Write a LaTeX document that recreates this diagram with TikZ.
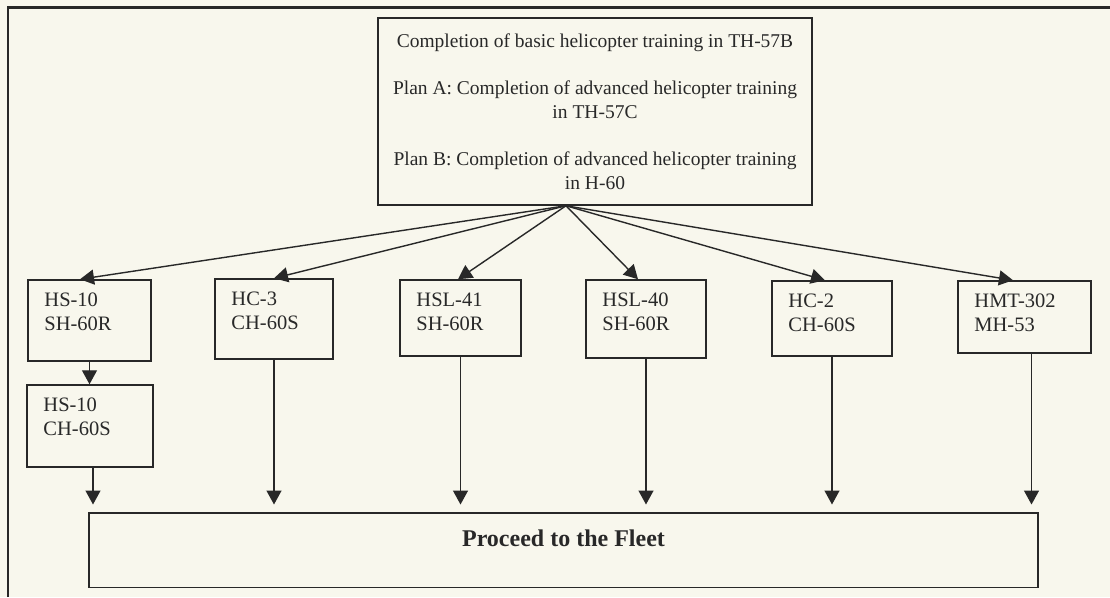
\documentclass[tikz,border=0pt]{standalone}
\usepackage{fontspec}
\setmainfont{Liberation Serif}
\usetikzlibrary{arrows.meta}
\definecolor{paper}{RGB}{248,247,237}
\definecolor{ink}{RGB}{40,40,40}
\tikzset{
  plainbox/.style={draw=ink, line width=1.5pt, inner sep=0pt},
  unitbox/.style={plainbox, minimum width=120pt, minimum height=78pt},
  unittext/.style={anchor=north west, inner sep=0pt, align=left, xshift=17pt, yshift=-13.5pt, text=ink, font=\fontsize{20.5}{24}\selectfont},
  flow/.style={draw=ink, line width=1.4pt, -{Triangle[length=14pt,width=15pt]}},
}
\begin{document}
\begin{tikzpicture}[x=1pt,y=-1pt]
\fill[paper] (0,0) rectangle (1110,597);
\useasboundingbox (0,0) rectangle (1110,597);
\draw[draw=ink, line width=2.5pt] (8,597) -- (8,7.5) -- (1110,7.5);
\node[plainbox, minimum width=434pt, minimum height=187pt, align=center, text=ink, font=\fontsize{19.5}{24}\selectfont] (basic) at (595,111.5)
  {Completion of basic helicopter training in TH-57B\\[23pt]
   Plan A: Completion of advanced helicopter training\\ in TH-57C\\[23pt]
   Plan B: Completion of advanced helicopter training\\ in H-60};
\node[unitbox, minimum width=123pt, minimum height=81pt, label={[unittext]north west:HS-10\\SH-60R}] (hs10a) at (89.5,320.5) {};
\node[unitbox, minimum width=118pt, minimum height=80pt, label={[unittext]north west:HC-3\\CH-60S}] (hc3) at (274,319) {};
\node[unitbox, minimum width=121pt, minimum height=76pt, label={[unittext]north west:HSL-41\\SH-60R}] (hsl41) at (460.5,318) {};
\node[unitbox, minimum width=120pt, minimum height=78pt, label={[unittext]north west:HSL-40\\SH-60R}] (hsl40) at (646,319) {};
\node[unitbox, minimum width=120pt, minimum height=75pt, label={[unittext]north west:HC-2\\CH-60S}] (hc2) at (832,318.5) {};
\node[unitbox, minimum width=133pt, minimum height=72pt, label={[unittext]north west:HMT-302\\MH-53}] (hmt) at (1024.5,317) {};
\node[unitbox, minimum width=126pt, minimum height=82pt, label={[unittext]north west:HS-10\\CH-60S}] (hs10b) at (90,426) {};
\node[plainbox, minimum width=949pt, text height=34pt, text depth=40.5pt, text=ink, font=\fontsize{24}{28}\selectfont\bfseries] (fleet) at (563.5,550) {Proceed to the Fleet};
\coordinate (fork) at ([xshift=-29pt]basic.south);
\draw[flow] (fork) -- ([xshift=-9.5pt]hs10a.north);
\draw[flow] (fork) -- (hc3.north);
\draw[flow] (fork) -- ([xshift=-2.5pt]hsl41.north);
\draw[flow] (fork) -- ([xshift=-8pt]hsl40.north);
\draw[flow] (fork) -- ([xshift=-7pt]hc2.north);
\draw[flow] (fork) -- ([xshift=-11.5pt]hmt.north);
\draw[flow] (hs10a.south) -- (hs10a.south |- hs10b.north);
\draw[flow, shorten >=7.5pt] ([xshift=3pt]hs10b.south) -- ([xshift=3pt]hs10b.south |- fleet.north);
\foreach \unit in {hc3,hsl41,hsl40,hc2}
  \draw[flow, shorten >=7.5pt] (\unit.south) -- (\unit.south |- fleet.north);
\draw[flow, shorten >=7.5pt] ([xshift=7pt]hmt.south) -- ([xshift=7pt]hmt.south |- fleet.north);
\end{tikzpicture}
\end{document}
